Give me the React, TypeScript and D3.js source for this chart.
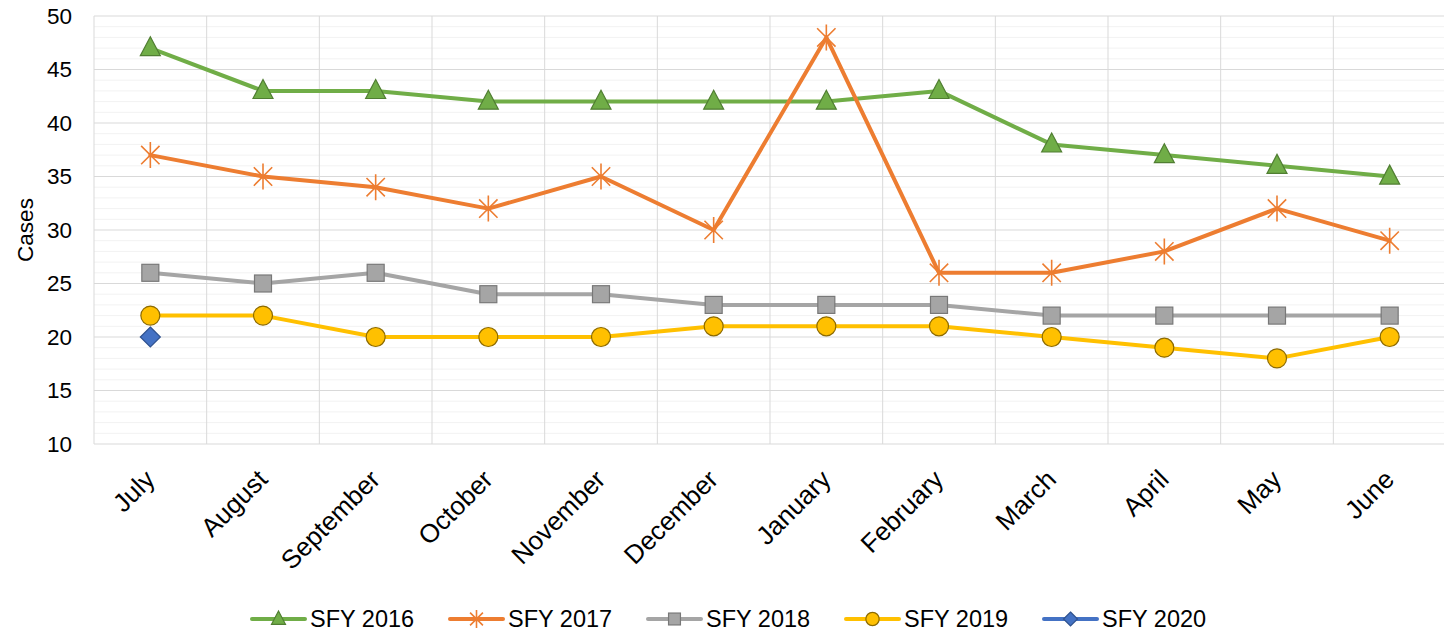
import React from 'react'
import * as d3 from 'd3'

const months = ['July', 'August', 'September', 'October', 'November', 'December', 'January', 'February', 'March', 'April', 'May', 'June']
const sfy2016 = [47, 43, 43, 42, 42, 42, 42, 43, 38, 37, 36, 35]
const sfy2017 = [37, 35, 34, 32, 35, 30, 48, 26, 26, 28, 32, 29]
const sfy2018 = [26, 25, 26, 24, 24, 23, 23, 23, 22, 22, 22, 22]
const sfy2019 = [22, 22, 20, 20, 20, 21, 21, 21, 20, 19, 18, 20]
const sfy2020 = [20]
const yTicks = [10, 15, 20, 25, 30, 35, 40, 45, 50]

const series = [
  { name: 'SFY 2016', values: sfy2016, color: '#70AD47', edge: '#507E32', marker: 'triangle' },
  { name: 'SFY 2017', values: sfy2017, color: '#ED7D31', edge: '#ED7D31', marker: 'star' },
  { name: 'SFY 2018', values: sfy2018, color: '#A5A5A5', edge: '#787878', marker: 'square' },
  { name: 'SFY 2019', values: sfy2019, color: '#FFC000', edge: '#8C6A00', marker: 'circle' },
  { name: 'SFY 2020', values: sfy2020, color: '#4472C4', edge: '#2F528F', marker: 'diamond' },
]

function Marker({ type, x, y, color, edge, s = 1 }: any) {
  if (type === 'triangle') {
    const h = 19 * s, w = 20 * s
    return <path d={`M${x},${y - h * 0.6} L${x + w / 2},${y + h * 0.4} L${x - w / 2},${y + h * 0.4} Z`} fill={color} stroke={edge} strokeWidth={1.2} />
  }
  if (type === 'star') {
    const r = 13 * s
    const parts = []
    for (let i = 0; i < 2; i++) {
      const a = i === 0 ? Math.PI / 4 : -Math.PI / 4
      parts.push(`M${x - r * Math.cos(a)},${y - r * Math.sin(a)} L${x + r * Math.cos(a)},${y + r * Math.sin(a)}`)
    }
    parts.push(`M${x},${y - r} L${x},${y + r}`)
    return <path d={parts.join(' ')} stroke={color} strokeWidth={1.6} fill="none" />
  }
  if (type === 'square') {
    const a = 17 * s
    return <rect x={x - a / 2} y={y - a / 2} width={a} height={a} fill={color} stroke={edge} strokeWidth={1.2} />
  }
  if (type === 'circle') {
    return <circle cx={x} cy={y} r={9.5 * s} fill={color} stroke={edge} strokeWidth={1.2} />
  }
  const r = 10 * s
  return <path d={`M${x},${y - r} L${x + r},${y} L${x},${y + r} L${x - r},${y} Z`} fill={color} stroke={edge} strokeWidth={1.2} />
}

export default function App() {
  const left = 94, right = 1446, top = 16, bottom = 444
  const x = d3.scaleBand().domain(months).range([left, right])
  const y = d3.scaleLinear().domain([10, 50]).range([bottom, top])
  const cx = (m: string) => (x(m) as number) + x.bandwidth() / 2
  const line = d3.line<number>().x((_, i) => cx(months[i])).y(d => y(d))
  const minor = d3.range(10, 51, 1).filter(v => v % 5 !== 0)
  const legend = d3.scaleLinear().domain([0, 4]).range([252, 1044])

  return (
    <svg width={1444} height={633} style={{ position: 'absolute', left: 0, top: 0, fontFamily: 'Liberation Sans, Arial, sans-serif' }}>
      <rect width={1444} height={633} fill="#fff" />
      {minor.map(v => (
        <line key={'m' + v} x1={left} x2={right} y1={y(v)} y2={y(v)} stroke="#F2F2F2" strokeWidth={1} />
      ))}
      {yTicks.map(v => (
        <line key={'g' + v} x1={left} x2={right} y1={y(v)} y2={y(v)} stroke="#D9D9D9" strokeWidth={1} />
      ))}
      {months.map(m => (
        <line key={'v' + m} x1={x(m)} x2={x(m)} y1={top} y2={bottom} stroke="#D9D9D9" strokeWidth={1} />
      ))}
      {yTicks.map(v => (
        <text key={'t' + v} x={72} y={y(v)} dy="0.35em" textAnchor="end" fontSize={22.5} fill="#000">{v}</text>
      ))}
      <text transform={`translate(33,${(top + bottom) / 2}) rotate(-90)`} textAnchor="middle" fontSize={22.5} fill="#000">Cases</text>
      {months.map(m => (
        <text key={'l' + m} transform={`translate(${cx(m) + 6},${481}) rotate(-45)`} textAnchor="end" fontSize={26} fill="#000">{m}</text>
      ))}
      {series.map(s => (
        <g key={s.name}>
          {s.values.length > 1 && (
            <path d={line(s.values) as string} fill="none" stroke={s.color} strokeWidth={4} strokeLinejoin="round" strokeLinecap="round" />
          )}
          {s.values.map((v, i) => (
            <Marker key={i} type={s.marker} x={cx(months[i])} y={y(v)} color={s.color} edge={s.edge} />
          ))}
        </g>
      ))}
      {series.map((s, i) => (
        <g key={'lg' + s.name}>
          <line x1={legend(i)} x2={legend(i) + 53} y1={619} y2={619} stroke={s.color} strokeWidth={4} strokeLinecap="round" />
          <Marker type={s.marker} x={legend(i) + 26.5} y={619} color={s.color} edge={s.edge} s={0.7} />
          <text x={legend(i) + 58} y={619} dy="0.35em" fontSize={23.5} fill="#000">{s.name}</text>
        </g>
      ))}
    </svg>
  )
}
